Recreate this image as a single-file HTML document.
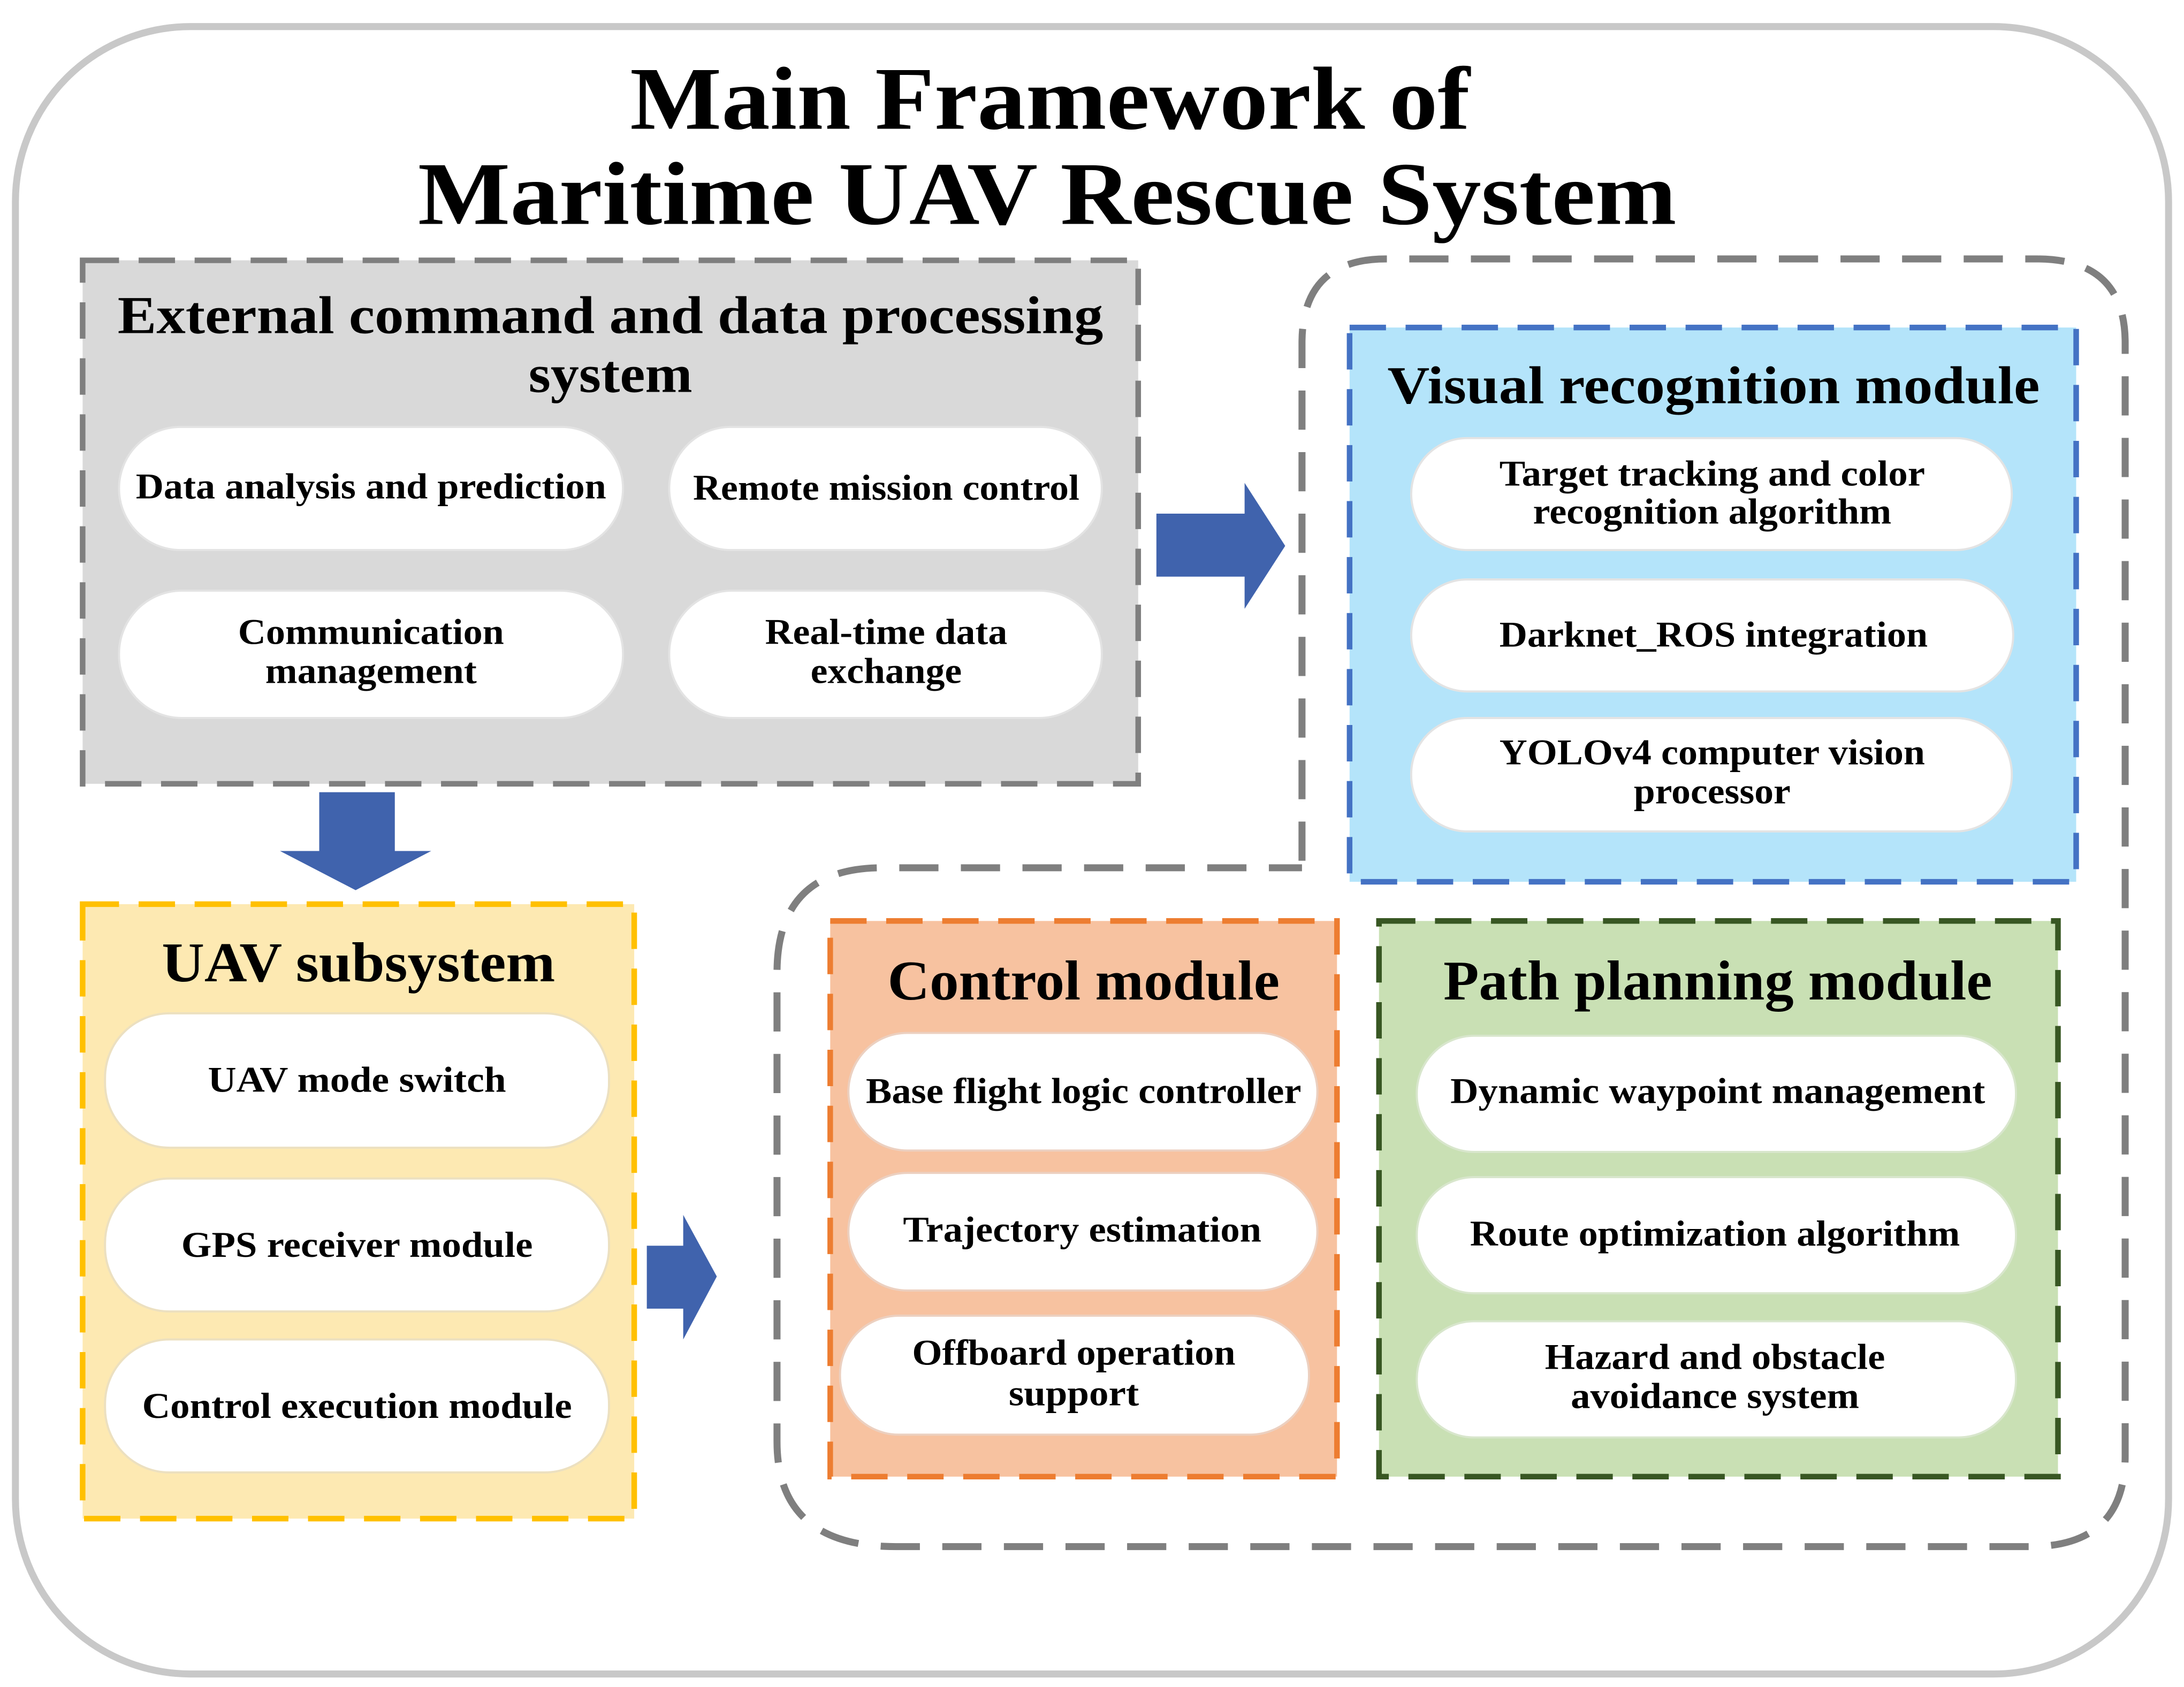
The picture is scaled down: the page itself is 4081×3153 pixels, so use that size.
<!DOCTYPE html>
<html><head><meta charset="utf-8"><style>
html,body{margin:0;padding:0;background:#fff;}
svg{display:block;}
text{font-family:"Liberation Serif",serif;font-weight:bold;fill:#000;text-anchor:middle;}
.p{font-size:26px;}
</style></head><body>
<svg width="4081" height="3153" viewBox="0 0 1560 1205.3" xmlns="http://www.w3.org/2000/svg">
<rect x="0" y="0" width="1560" height="1206" fill="#fff"/>
<rect x="11" y="19" width="1538" height="1177" rx="125" fill="#fff" stroke="#c8c8c8" stroke-width="5"/>
<text x="750" y="92" style="font-size:64px" textLength="600" lengthAdjust="spacingAndGlyphs">Main Framework of</text>
<text x="748" y="160" style="font-size:64px" textLength="899" lengthAdjust="spacingAndGlyphs">Maritime UAV Rescue System</text>

<path d="M930,615 L930,245 Q930,185 990,185 L1455,185 Q1518,185 1518,245 L1518,1040 Q1518,1105 1450,1105 L640,1105 Q555,1105 555,1030 L555,695 Q555,620 630,620 L930,620" fill="none" stroke="#7f7f7f" stroke-width="5" stroke-dasharray="28,16"/>

<rect x="59" y="186" width="754" height="374" fill="#d9d9d9" stroke="#7f7f7f" stroke-width="4" stroke-dasharray="26,14"/>
<text x="436" y="238" style="font-size:38px" textLength="704" lengthAdjust="spacingAndGlyphs">External command and data processing</text>
<text x="436" y="280" style="font-size:38px" textLength="117" lengthAdjust="spacingAndGlyphs">system</text>
<g fill="#fff" stroke="#e3e3e3" stroke-width="1.5">
<rect x="85" y="305" width="360" height="88" rx="44"/>
<rect x="478" y="305" width="309" height="88" rx="44"/>
<rect x="85" y="422" width="360" height="91" rx="45"/>
<rect x="478" y="422" width="309" height="91" rx="45"/>
</g>
<text class="p" x="265" y="356" textLength="336" lengthAdjust="spacingAndGlyphs">Data analysis and prediction</text>
<text class="p" x="633" y="357" textLength="276" lengthAdjust="spacingAndGlyphs">Remote mission control</text>
<text class="p" x="265" y="460" textLength="190" lengthAdjust="spacingAndGlyphs">Communication</text>
<text class="p" x="265" y="488" textLength="151" lengthAdjust="spacingAndGlyphs">management</text>
<text class="p" x="633" y="460" textLength="173" lengthAdjust="spacingAndGlyphs">Real-time data</text>
<text class="p" x="633" y="488" textLength="108" lengthAdjust="spacingAndGlyphs">exchange</text>

<polygon points="826,367 889,367 889,345 918,390 889,435 889,412 826,412" fill="#4063ad"/>
<polygon points="228,566 282,566 282,608 308,608 254,636 200,608 228,608" fill="#4063ad"/>
<polygon points="462,890 488,890 488,868 512,912 488,957 488,935 462,935" fill="#4063ad"/>

<rect x="964" y="234" width="519" height="396" fill="#b4e4fa" stroke="#4472c4" stroke-width="4" stroke-dasharray="26,14"/>
<text x="1224" y="288" style="font-size:38px" textLength="466" lengthAdjust="spacingAndGlyphs">Visual recognition module</text>
<g fill="#fff" stroke="#e3e3e3" stroke-width="1.5">
<rect x="1008" y="313" width="429" height="80" rx="40"/>
<rect x="1008" y="414" width="430" height="80" rx="40"/>
<rect x="1008" y="513" width="429" height="81" rx="40"/>
</g>
<text class="p" x="1223" y="347" textLength="304" lengthAdjust="spacingAndGlyphs">Target tracking and color</text>
<text class="p" x="1223" y="374" textLength="256" lengthAdjust="spacingAndGlyphs">recognition algorithm</text>
<text class="p" x="1224" y="462" textLength="306" lengthAdjust="spacingAndGlyphs">Darknet_ROS integration</text>
<text class="p" x="1223" y="546" textLength="304" lengthAdjust="spacingAndGlyphs">YOLOv4 computer vision</text>
<text class="p" x="1223" y="574" textLength="112" lengthAdjust="spacingAndGlyphs">processor</text>

<rect x="59" y="646" width="394" height="439" fill="#fde9b2" stroke="#ffc000" stroke-width="4" stroke-dasharray="26,14"/>
<text x="256" y="701" style="font-size:40px" textLength="281" lengthAdjust="spacingAndGlyphs">UAV subsystem</text>
<g fill="#fff" stroke="#ece0c0" stroke-width="1.5">
<rect x="75" y="724" width="360" height="96" rx="46"/>
<rect x="75" y="842" width="360" height="95" rx="46"/>
<rect x="75" y="957" width="360" height="95" rx="46"/>
</g>
<text class="p" x="255" y="780" textLength="213" lengthAdjust="spacingAndGlyphs">UAV mode switch</text>
<text class="p" x="255" y="898" textLength="251" lengthAdjust="spacingAndGlyphs">GPS receiver module</text>
<text class="p" x="255" y="1013" textLength="307" lengthAdjust="spacingAndGlyphs">Control execution module</text>

<rect x="593" y="658" width="362" height="397" fill="#f7c2a0" stroke="#ed7d31" stroke-width="4" stroke-dasharray="26,14"/>
<text x="774" y="714" style="font-size:40px" textLength="280" lengthAdjust="spacingAndGlyphs">Control module</text>
<g fill="#fff" stroke="#ecd0c0" stroke-width="1.5">
<rect x="606" y="738" width="335" height="84" rx="42"/>
<rect x="606" y="838" width="335" height="84" rx="42"/>
<rect x="600" y="940" width="335" height="85" rx="42"/>
</g>
<text class="p" x="774" y="788" textLength="311" lengthAdjust="spacingAndGlyphs">Base flight logic controller</text>
<text class="p" x="773" y="887" textLength="256" lengthAdjust="spacingAndGlyphs">Trajectory estimation</text>
<text class="p" x="767" y="975" textLength="231" lengthAdjust="spacingAndGlyphs">Offboard operation</text>
<text class="p" x="767" y="1004" textLength="93" lengthAdjust="spacingAndGlyphs">support</text>

<rect x="985" y="658" width="485" height="397" fill="#c9e0b4" stroke="#385723" stroke-width="4" stroke-dasharray="26,14"/>
<text x="1227" y="714" style="font-size:40px" textLength="392" lengthAdjust="spacingAndGlyphs">Path planning module</text>
<g fill="#fff" stroke="#d8e6cc" stroke-width="1.5">
<rect x="1012" y="740" width="428" height="83" rx="41"/>
<rect x="1012" y="841" width="428" height="83" rx="41"/>
<rect x="1012" y="944" width="428" height="83" rx="41"/>
</g>
<text class="p" x="1227" y="788" textLength="382" lengthAdjust="spacingAndGlyphs">Dynamic waypoint management</text>
<text class="p" x="1225" y="890" textLength="350" lengthAdjust="spacingAndGlyphs">Route optimization algorithm</text>
<text class="p" x="1225" y="978" textLength="243" lengthAdjust="spacingAndGlyphs">Hazard and obstacle</text>
<text class="p" x="1225" y="1006" textLength="206" lengthAdjust="spacingAndGlyphs">avoidance system</text>
</svg>
</body></html>
